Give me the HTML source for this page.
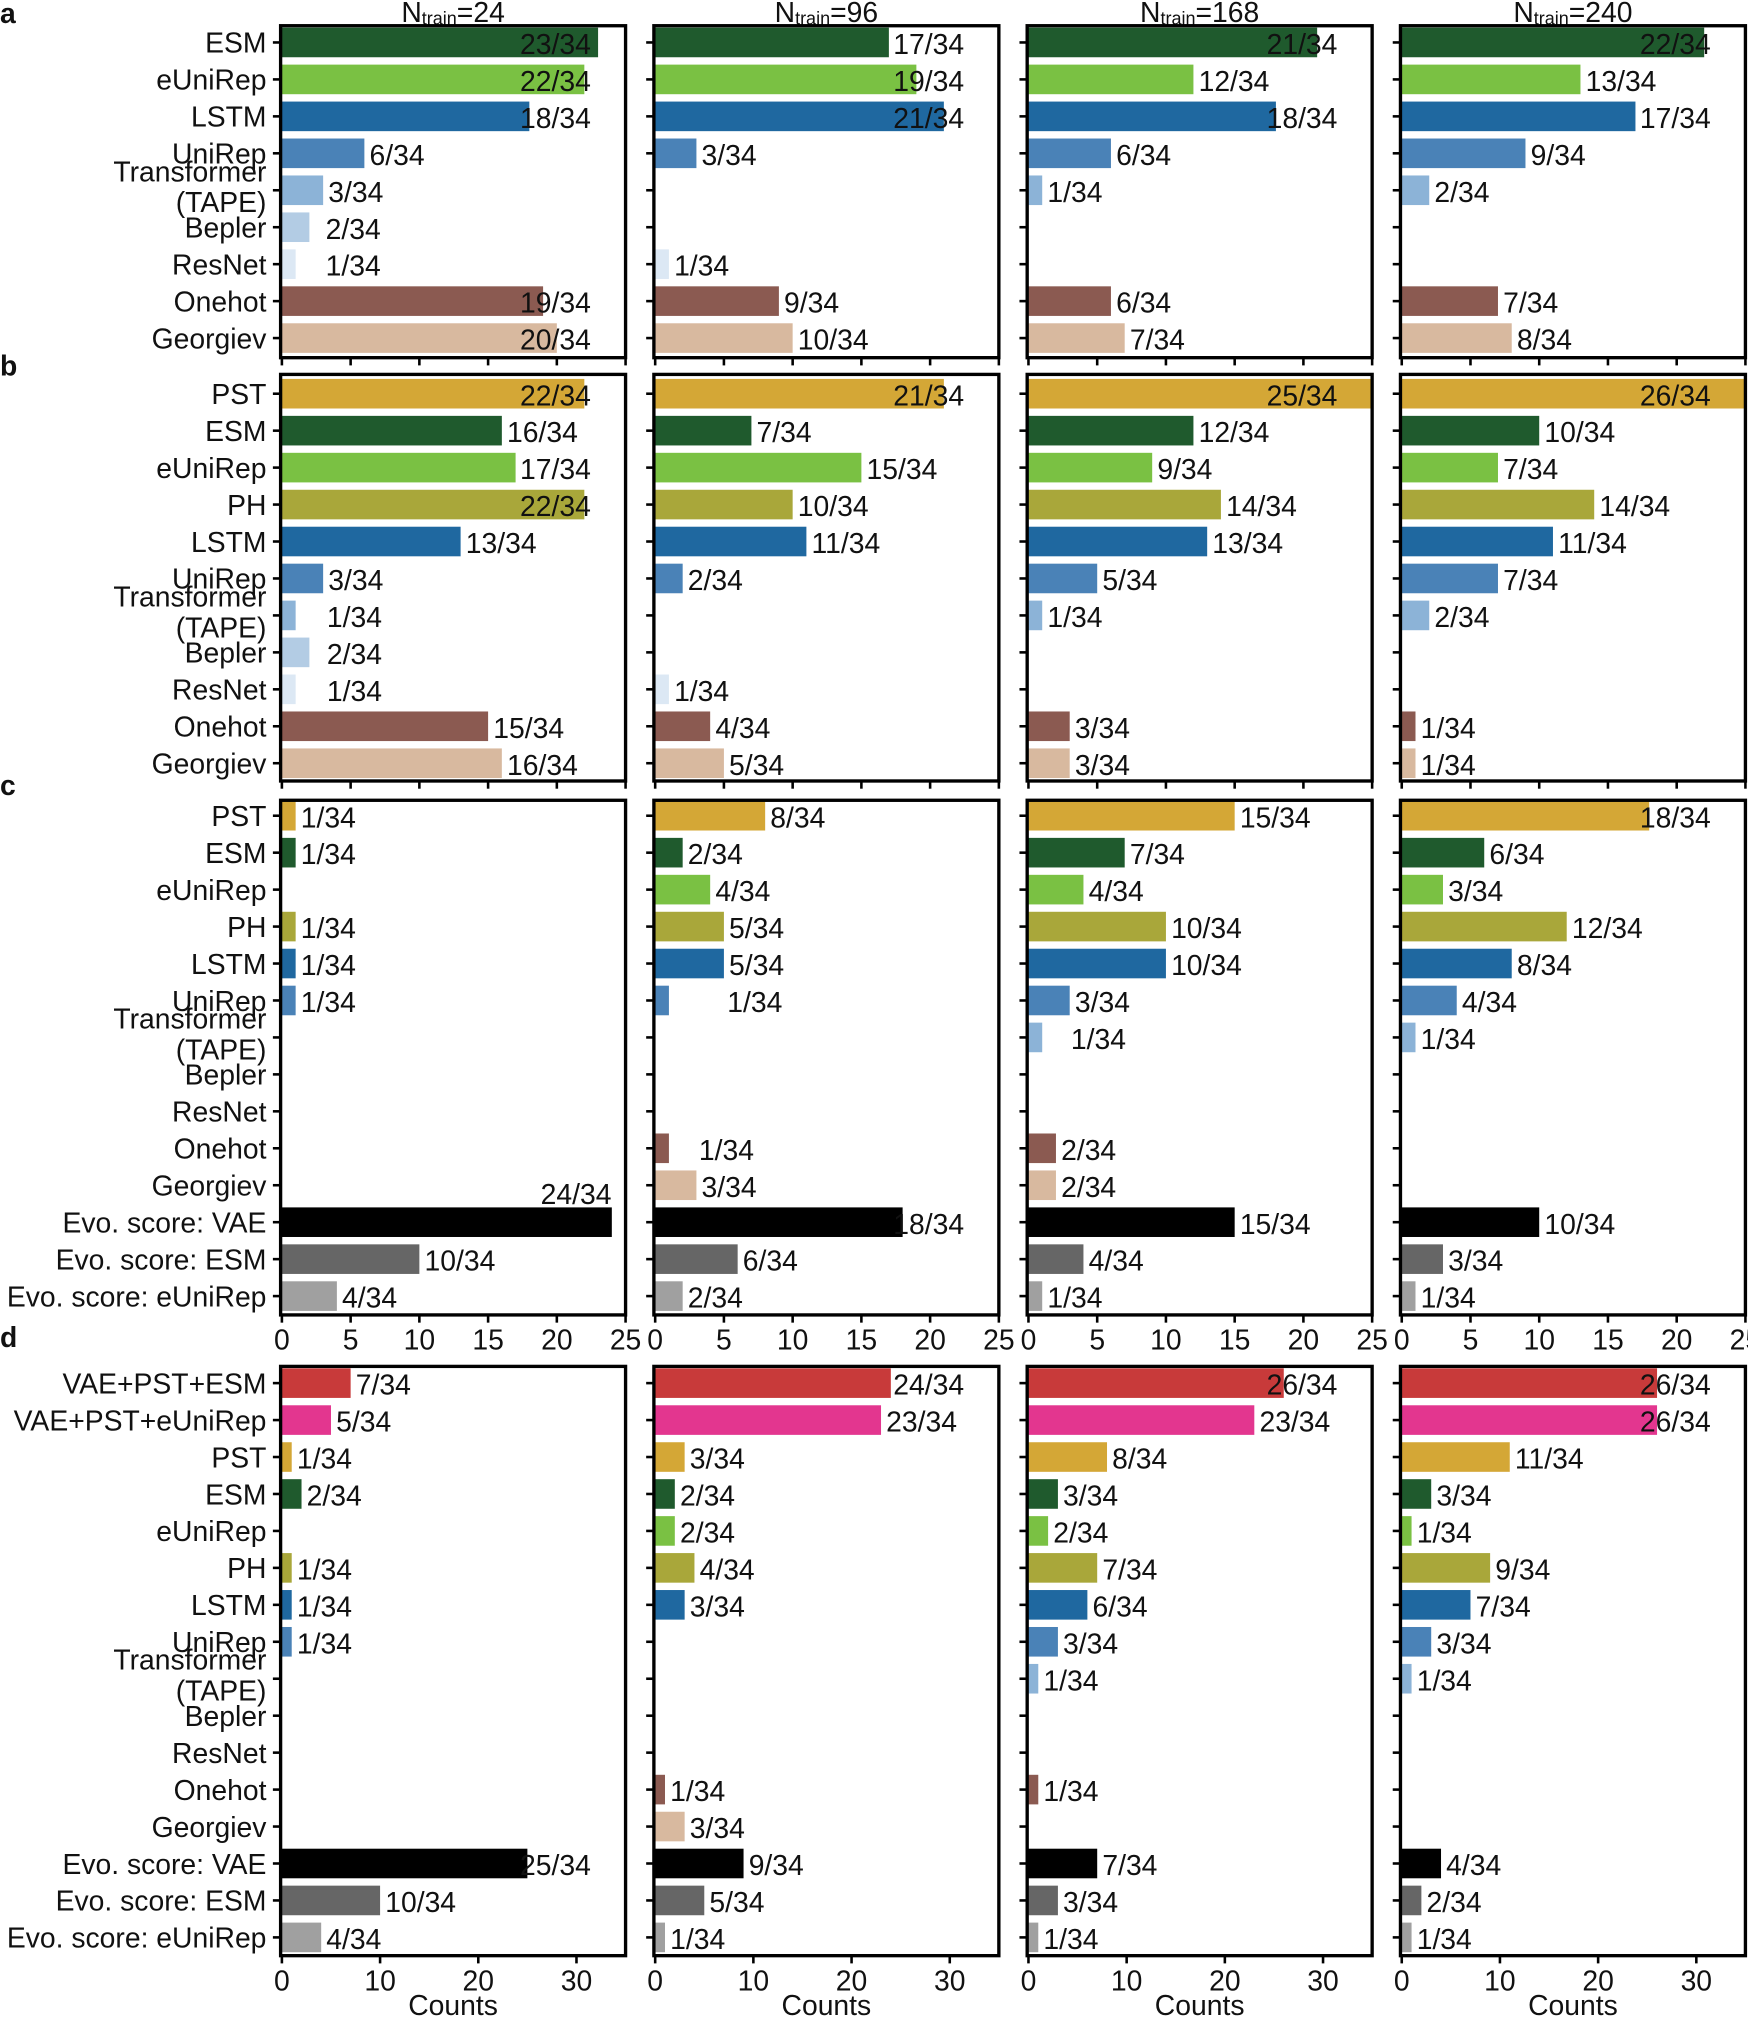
<!DOCTYPE html>
<html><head><meta charset="utf-8">
<style>
html,body{margin:0;padding:0;background:#fff;}
svg{display:block;}
text{font-family:"Liberation Sans",Arial,sans-serif;fill:#111;}
</style></head>
<body>
<svg id="s" xmlns="http://www.w3.org/2000/svg" width="1748" height="2020" viewBox="0 0 1358 1570" preserveAspectRatio="none"></svg>
<script>
const C={ESM:"#1f5a2d",eUniRep:"#7ac143",LSTM:"#1f68a0",UniRep:"#4a82b7",TAPE:"#8cb3d7",Bepler:"#b3cce4",ResNet:"#dce8f4",Onehot:"#8b5a51",Georgiev:"#d8b99f",PST:"#d4a736",PH:"#a9a73a",VAE:"#000",EESM:"#666",EUNI:"#a0a0a0",VPE:"#c83a3a",VPU:"#e3368f"};
const LBL={ESM:"ESM",eUniRep:"eUniRep",LSTM:"LSTM",UniRep:"UniRep",TAPE:"TAPE",Bepler:"Bepler",ResNet:"ResNet",Onehot:"Onehot",Georgiev:"Georgiev",PST:"PST",PH:"PH",VAE:"Evo. score: VAE",EESM:"Evo. score: ESM",EUNI:"Evo. score: eUniRep",VPE:"VAE+PST+ESM",VPU:"VAE+PST+eUniRep"};
const lefts=[218,508,798,1088],W=268;
const panels=[
 {letter:"a",ly:18,top:20,bot:278,y0:33,xmax:25,ticks:null,
  rows:["ESM","eUniRep","LSTM","UniRep","TAPE","Bepler","ResNet","Onehot","Georgiev"],
  data:[[23,22,18,6,3,2,1,19,20],[17,19,21,3,0,0,1,9,10],[21,12,18,6,1,0,0,6,7],[22,13,17,9,2,0,0,7,8]],
  ov:{"0-5":253,"0-6":253}},
 {letter:"b",ly:292,top:291,bot:607,y0:306,xmax:25,ticks:null,
  rows:["PST","ESM","eUniRep","PH","LSTM","UniRep","TAPE","Bepler","ResNet","Onehot","Georgiev"],
  data:[[22,16,17,22,13,3,1,2,1,15,16],[21,7,15,10,11,2,0,0,1,4,5],[25,12,9,14,13,5,1,0,0,3,3],[26,10,7,14,11,7,2,0,0,1,1]],
  ov:{"0-6":254,"0-7":254,"0-8":254}},
 {letter:"c",ly:618,top:622,bot:1022,y0:634,xmax:25,ticks:[0,5,10,15,20,25],
  rows:["PST","ESM","eUniRep","PH","LSTM","UniRep","TAPE","Bepler","ResNet","Onehot","Georgiev","VAE","EESM","EUNI"],
  data:[[1,1,0,1,1,1,0,0,0,0,0,24,10,4],[8,2,4,5,5,1,0,0,0,1,3,18,6,2],[15,7,4,10,10,3,1,0,0,2,2,15,4,1],[18,6,3,12,8,4,1,0,0,0,0,10,3,1]],
  ov:{"1-5":565,"1-9":543,"2-6":832}},
 {letter:"d",ly:1047,top:1062,bot:1520,y0:1075,xmax:35,ticks:[0,10,20,30],counts:true,
  rows:["VPE","VPU","PST","ESM","eUniRep","PH","LSTM","UniRep","TAPE","Bepler","ResNet","Onehot","Georgiev","VAE","EESM","EUNI"],
  data:[[7,5,1,2,0,1,1,1,0,0,0,0,0,25,10,4],[24,23,3,2,2,4,3,0,0,0,0,1,3,9,5,1],[26,23,8,3,2,7,6,3,1,0,0,1,0,7,3,1],[26,26,11,3,1,9,7,3,1,0,0,0,0,4,2,1]],
  ov:{}}
];
const sp=28.72,bh=23,FS=22;
let o="";
const titles=["24","96","168","240"];
lefts.forEach((L,i)=>{o+=`<text x="${L+W/2}" y="17" font-size="22" text-anchor="middle">N<tspan font-size="14" dy="2">train</tspan><tspan dy="-2">=${titles[i]}</tspan></text>`;});
panels.forEach((p,pi)=>{
 o+=`<text x="0" y="${p.ly}" font-size="22" font-weight="bold">${p.letter}</text>`;
 lefts.forEach((L,ci)=>{
  const x0=L+1,sc=(W-1)/p.xmax;
  p.rows.forEach((r,ri)=>{
   const y=p.y0+ri*sp,v=p.data[ci][ri];
   if(v>0){
    const bw=Math.min(v*sc,W-1);
    o+=`<rect x="${x0}" y="${y-bh/2}" width="${bw}" height="${bh}" fill="${C[r]}"/>`;
    let tx=x0+bw+4;
    const tw=v>=10?60:50;
    if(tx+tw>L+W-22) tx=L+W-22-tw;
    const key=ci+"-"+ri;
    if(p.ov[key]) tx=p.ov[key];
    let ty=y+9;
    if(pi===2&&ci===0&&r==="VAE"){tx=420;ty=y-14;}
    o+=`<text x="${tx}" y="${ty}" font-size="${FS}">${v}/34</text>`;
   }
   o+=`<line x1="${L-6}" x2="${L}" y1="${y}" y2="${y}" stroke="#000" stroke-width="2"/>`;
   if(ci===0){
    if(r==="TAPE"){
     o+=`<text x="207" y="${y-7}" font-size="${FS}" text-anchor="end">Transformer</text><text x="207" y="${y+17}" font-size="${FS}" text-anchor="end">(TAPE)</text>`;
    } else o+=`<text x="207" y="${y+8}" font-size="${FS}" text-anchor="end">${LBL[r]}</text>`;
   }
  });
  o+=`<rect x="${L}" y="${p.top}" width="${W}" height="${p.bot-p.top}" fill="none" stroke="#000" stroke-width="2.6"/>`;
  const tks=p.ticks||[0,5,10,15,20,25];
  tks.forEach(t=>{const tx=x0+t*sc;o+=`<line x1="${tx}" x2="${tx}" y1="${p.bot}" y2="${p.bot+6}" stroke="#000" stroke-width="2"/>`;
   if(p.ticks) o+=`<text x="${tx}" y="${p.bot+27}" font-size="${FS}" text-anchor="middle">${t}</text>`;});
  if(p.counts) o+=`<text x="${L+W/2}" y="1566" font-size="${FS}" text-anchor="middle">Counts</text>`;
 });
});
document.getElementById("s").innerHTML=o;
</script>
</body></html>
